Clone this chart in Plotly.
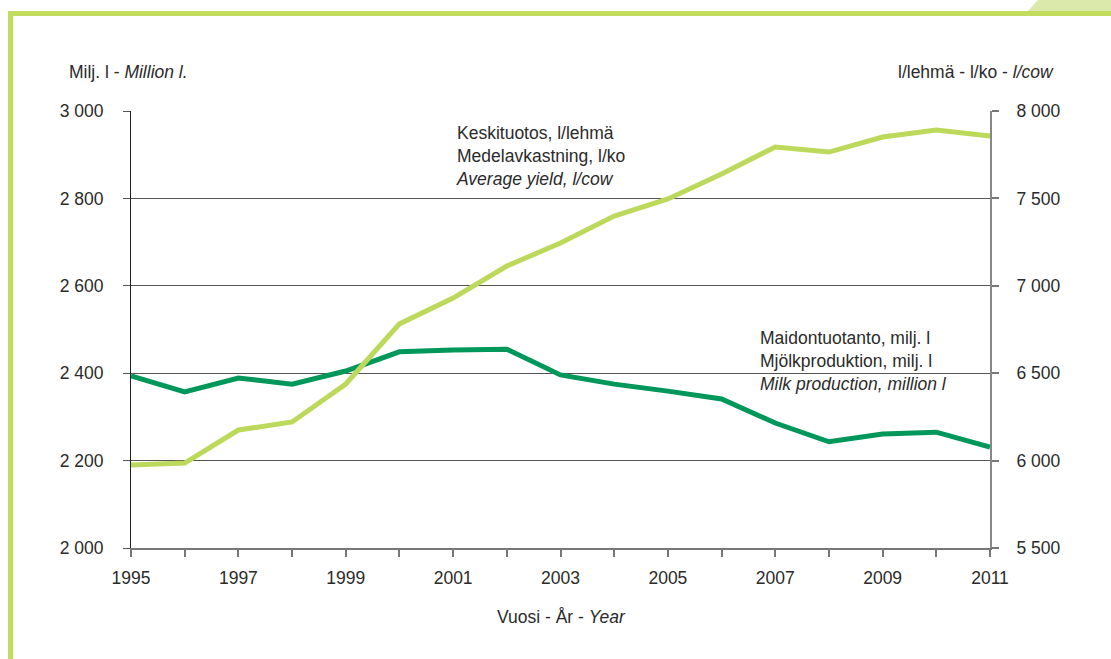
import plotly.graph_objects as go

years = list(range(1995, 2012))
milk_production = [2394, 2357, 2389, 2375, 2405, 2449, 2453, 2455, 2396, 2375,
                   2359, 2341, 2286, 2243, 2261, 2265, 2231]
average_yield = [5975, 5986, 6175, 6221, 6438, 6782, 6930, 7113, 7245, 7399,
                 7497, 7640, 7794, 7765, 7851, 7891, 7857]
left_ticks = [2000, 2200, 2400, 2600, 2800, 3000]
left_labels = ["2 000", "2 200", "2 400", "2 600", "2 800", "3 000"]
right_ticks = [5500, 6000, 6500, 7000, 7500, 8000]
right_labels = ["5 500", "6 000", "6 500", "7 000", "7 500", "8 000"]
x_labels = [str(y) if (y - 1995) % 2 == 0 else "" for y in years]

FONT = "Liberation Sans Narrow, Arial Narrow, Liberation Sans, Arial, sans-serif"
FS = 17.5
TXT = "#2b2b2b"
DARK = "#00975a"
LIGHT = "#bcd95b"
FRAME = "#c2dc5e"

W, H = 1111, 659
L, R, T, B = 131, 990, 111, 548


def px(x):
    return (x - L) / (R - L)


def py(y):
    return (B - y) / (B - T)


fig = go.Figure()
fig.add_trace(go.Scatter(x=years, y=milk_production, mode="lines",
                         line=dict(color=DARK, width=5), yaxis="y",
                         hoverinfo="x+y", showlegend=False))
fig.add_trace(go.Scatter(x=years, y=average_yield, mode="lines",
                         line=dict(color=LIGHT, width=5), yaxis="y2",
                         hoverinfo="x+y", showlegend=False))

shapes = [
    dict(type="rect", xref="paper", yref="paper", x0=px(8), x1=px(13), y0=py(11), y1=py(H),
         fillcolor=FRAME, line=dict(width=0), layer="above"),
    dict(type="rect", xref="paper", yref="paper", x0=px(8), x1=px(W), y0=py(11), y1=py(16),
         fillcolor=FRAME, line=dict(width=0), layer="above"),
    dict(type="path", xref="paper", yref="paper",
         path=f"M {px(1028)} {py(11)} L {px(1038)} {py(0)} L {px(W)} {py(0)} L {px(W)} {py(11)} Z",
         fillcolor="#dbe9aa", line=dict(width=0), layer="above"),
]

annotations = [
    dict(xref="paper", yref="paper", x=px(67), y=py(72), xanchor="left", yanchor="middle",
         text="Milj. l - <i>Million l.</i>", showarrow=False, font=dict(size=FS)),
    dict(xref="paper", yref="paper", x=px(1056), y=py(72), xanchor="right", yanchor="middle",
         text="l/lehmä - l/ko - <i>l/cow</i>", showarrow=False, font=dict(size=FS)),
    dict(xref="paper", yref="paper", x=px(561), y=py(617), xanchor="center", yanchor="middle",
         text="Vuosi - År - <i>Year</i>", showarrow=False, font=dict(size=FS)),
    dict(xref="paper", yref="paper", x=px(454), y=py(121), xanchor="left", yanchor="top",
         align="left", showarrow=False, font=dict(size=FS),
         text="Keskituotos, l/lehmä<br>Medelavkastning, l/ko<br><i>Average yield, l/cow</i>"),
    dict(xref="paper", yref="paper", x=px(758), y=py(326), xanchor="left", yanchor="top",
         align="left", showarrow=False, font=dict(size=FS),
         text="Maidontuotanto, milj. l<br>Mjölkproduktion, milj. l<br><i>Milk production, million l</i>"),
]

fig.update_layout(
    width=W, height=H,
    margin=dict(l=L, r=W - R, t=T, b=H - B, autoexpand=False),
    paper_bgcolor="white", plot_bgcolor="white",
    font=dict(family=FONT, size=FS, color=TXT),
    showlegend=False,
    shapes=shapes,
    annotations=annotations,
    xaxis=dict(range=[1995, 2011], tickvals=years, ticktext=x_labels,
               ticks="outside", ticklen=7, tickcolor="#777", tickwidth=1.5,
               showgrid=False, zeroline=False, showline=True, linecolor="#777", linewidth=2,
               tickfont=dict(size=FS, color=TXT), ticklabelstandoff=6, fixedrange=True),
    yaxis=dict(range=[2000, 3000], tickvals=left_ticks, ticktext=left_labels,
               ticks="outside", ticklen=7, tickcolor="#555", tickwidth=1,
               showgrid=True, gridcolor="#555", gridwidth=1,
               showline=True, linecolor="#222", linewidth=1, zeroline=False,
               tickfont=dict(size=FS, color=TXT), ticklabelstandoff=16, fixedrange=True),
    yaxis2=dict(range=[5500, 8000], tickvals=right_ticks, ticktext=right_labels,
                overlaying="y", side="right",
                ticks="outside", ticklen=7, tickcolor="#777", tickwidth=1.5,
                showgrid=False, showline=True, linecolor="#888", linewidth=2, zeroline=False,
                tickfont=dict(size=FS, color=TXT), ticklabelstandoff=14, fixedrange=True),
)

fig.write_html("out.html", config={"displayModeBar": False},
               post_script="document.body.style.margin='0';")
